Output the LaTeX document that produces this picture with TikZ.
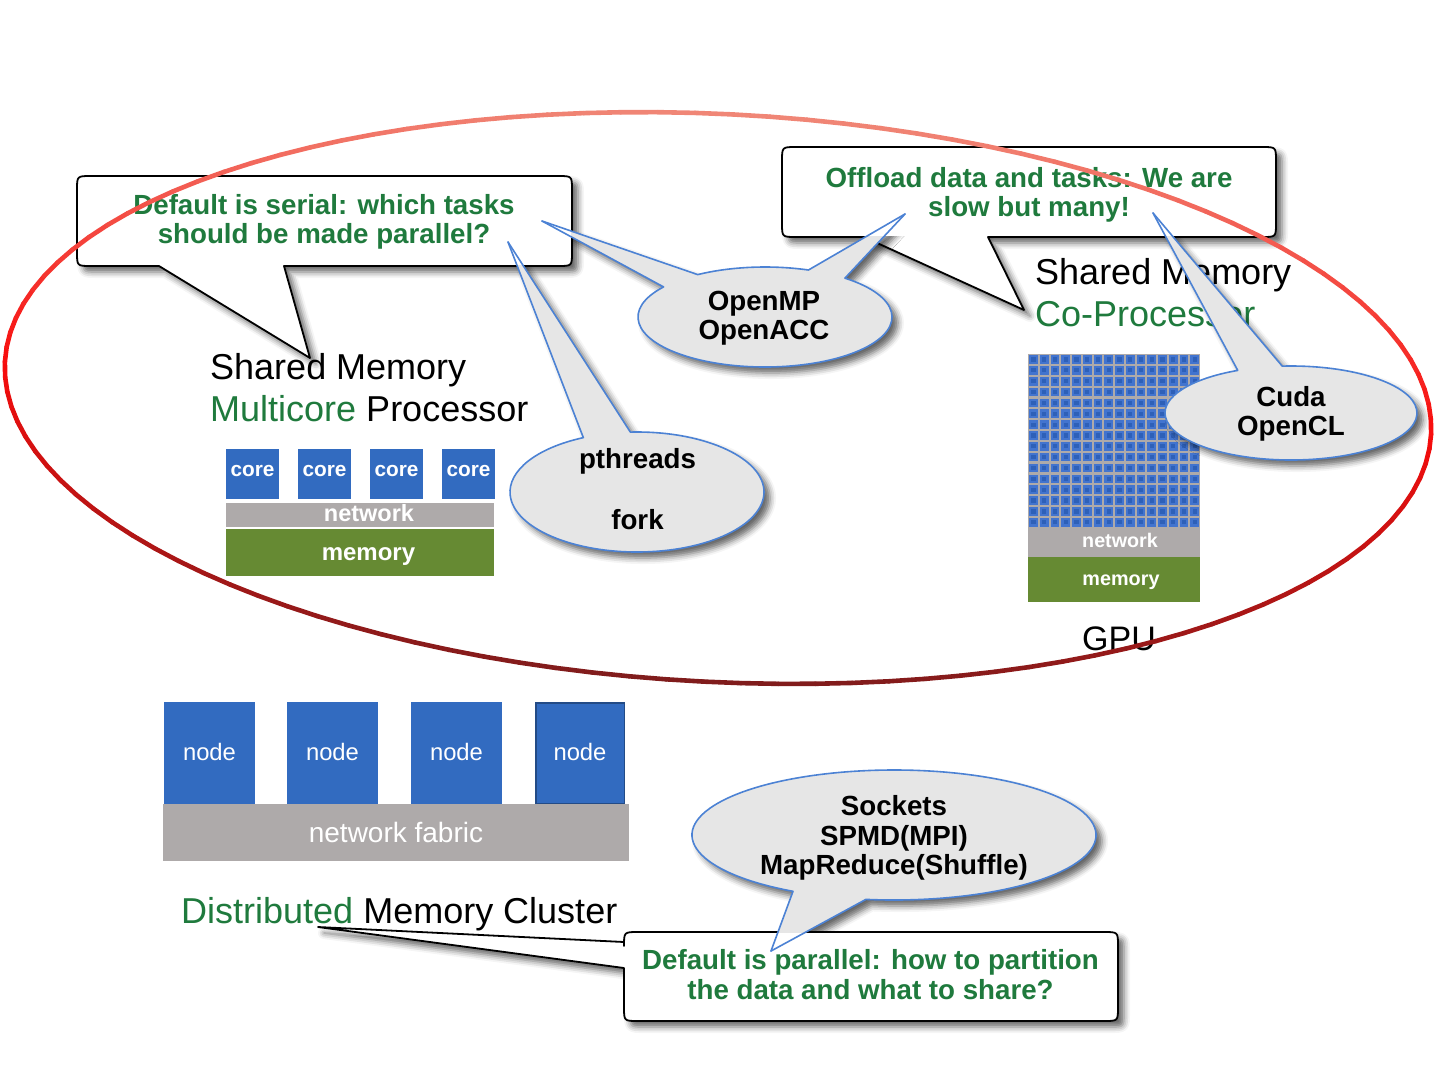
\documentclass[tikz,border=0pt]{standalone}
\usepackage{fontspec}
\setmainfont{Liberation Sans}
\usetikzlibrary{shadows.blur}
\definecolor{tgreen}{HTML}{1F7A3D}
\definecolor{cblue}{HTML}{326BC0}
\definecolor{cgray}{HTML}{AEAAAA}
\definecolor{mgreen}{HTML}{668A33}
\definecolor{bfill}{HTML}{E6E6E6}
\definecolor{bline}{HTML}{4C82D4}
\definecolor{gblue}{HTML}{4274CF}
\definecolor{gblue2}{HTML}{2E60B8}
\definecolor{elltop}{HTML}{F08676}
\definecolor{ellmid}{HTML}{F80C0C}
\definecolor{ellbot}{HTML}{801C1C}
\begin{document}
\begin{tikzpicture}[x=1pt,y=-1pt,
  bt/.style={font=\fontsize{27.7}{30}\selectfont\bfseries, text=tgreen, anchor=base, inner sep=0pt},
  kt/.style={font=\fontsize{27.7}{30}\selectfont\bfseries, text=black, anchor=base, inner sep=0pt},
  big/.style={font=\fontsize{36}{42}\selectfont, anchor=base west, inner sep=0pt},
  wt/.style={text=white, anchor=base, inner sep=0pt},
  sh/.style={blur shadow={shadow xshift=6pt, shadow yshift=-6pt, shadow blur radius=6pt, shadow opacity=60}},
  cbox/.style={fill=white, draw=black, line width=1.8pt, line join=round, sh},
  bub/.style={fill=bfill, draw=bline, line width=1.6pt, line join=round, sh},
  bl/.style={draw=bline, line width=1.6pt, line cap=round},
]
\useasboundingbox (0,0) rectangle (1440,1080);

% ---------- Shared memory multicore ----------
\node[big] (sm1) at (210,379) {Shared Memory};
\node[big] (sm2) at (210,421) {\textcolor{tgreen}{Multicore} Processor};
\foreach \x/\n in {226/1,298/2,370/3,442/4}{
  \fill[cblue] (\x,449) rectangle +(53,50);
  \node[wt, font=\fontsize{20.8}{24}\selectfont\bfseries] (core\n) at ({\x+26.5},476) {core};
}
\fill[cgray] (226,503) rectangle (494,527);
\node[wt, font=\fontsize{23.5}{26}\selectfont\bfseries] (net1) at (369,521.5) {network};
\fill[mgreen] (226,529) rectangle (494,576);
\node[wt, font=\fontsize{24}{26}\selectfont\bfseries] (mem1) at (368.5,560) {memory};

% ---------- GPU ----------
\node[big] (sm3) at (1035,284) {Shared Memory};
\node[big, text=tgreen] (cop) at (1035,326) {Co-Processor};
\fill[cgray] (1028,354) rectangle (1200,528);
\foreach \i in {0,...,15}{
  \foreach \j in {0,...,15}{
    \fill[gblue] ({1029.2+\i*10.75},{355.2+\j*10.85}) rectangle +(8.6,8.6);
    \fill[gblue2] ({1031.4+\i*10.75},{357.4+\j*10.85}) rectangle +(4.2,4.2);
  }
}
\fill[cgray] (1028,528) rectangle (1200,557);
\node[wt, font=\fontsize{19.7}{22}\selectfont\bfseries] (net2) at (1120,547) {network};
\fill[mgreen] (1028,557) rectangle (1200,602);
\node[wt, font=\fontsize{19.8}{22}\selectfont\bfseries] (mem2) at (1121,585) {memory};
\node[font=\fontsize{34}{40}\selectfont, anchor=base, inner sep=0pt] (gpu) at (1119,650) {GPU};

% ---------- Cluster ----------
\foreach \x/\n in {164/1,287/2,411/3}{
  \fill[cblue] (\x,702) rectangle +(91,102);
  \node[wt, font=\fontsize{23.8}{26}\selectfont] (node\n) at ({\x+45.5},760.5) {node};
}
\fill[cblue] (535,702) rectangle (625,804);
\draw[draw=black!30!cblue, line width=1.5pt] (535.75,702.75) rectangle (624.25,803.25);
\node[wt, font=\fontsize{23.8}{26}\selectfont] (node4) at (580,760.5) {node};
\fill[cgray] (163,804) rectangle (629,861);
\node[wt, font=\fontsize{28}{30}\selectfont] (fab) at (396,842) {network fabric};
\node[big] (dmc) at (181,923.5) {\textcolor{tgreen}{Distributed} Memory Cluster};

% ---------- rectangular callouts ----------
\path[cbox] (91,176) -- (558,176) .. controls (572,176) .. (572,190) -- (572,252)
  .. controls (572,266) .. (558,266) -- (284,266) -- (310,358) -- (159,266) -- (91,266)
  .. controls (77,266) .. (77,252) -- (77,190) .. controls (77,176) .. (91,176) -- cycle;
\path[cbox] (796,147) -- (1262,147) .. controls (1276,147) .. (1276,161) -- (1276,223)
  .. controls (1276,237) .. (1262,237) -- (988,237) -- (1024,310) -- (864,237) -- (796,237)
  .. controls (782,237) .. (782,223) -- (782,161) .. controls (782,147) .. (796,147) -- cycle;
\path[cbox] (638,932) -- (1104,932) .. controls (1118,932) .. (1118,946) -- (1118,1007)
  .. controls (1118,1021) .. (1104,1021) -- (638,1021) .. controls (624,1021) .. (624,1007)
  -- (624,968) -- (318,927) -- (624,942) -- (624,946) .. controls (624,932) .. (638,932) -- cycle;

% ---------- elliptical callouts ----------
\coordinate (omA) at ({765+127*cos(217)},{317+50*sin(217)});
\coordinate (omB) at ({765+127*cos(238)},{317+50*sin(238)});
\coordinate (omC) at ({765+127*cos(290)},{317+50*sin(290)});
\coordinate (omD) at ({765+127*cos(309)},{317+50*sin(309)});
\coordinate (omTL) at (542,221);
\coordinate (omTR) at (905,214);
\coordinate (ptA) at ({637+127*cos(245)},{492+60*sin(245)});
\coordinate (ptB) at ({637+127*cos(267)},{492+60*sin(267)});
\coordinate (ptT) at (508,242);
\coordinate (cuA) at ({1291+126*cos(245)},{413+47*sin(245)});
\coordinate (cuB) at ({1291+126*cos(266)},{413+47*sin(266)});
\coordinate (cuT) at (1153,213);
\coordinate (soA) at ({894+202*cos(98)},{835+65*sin(98)});
\coordinate (soB) at ({894+202*cos(120)},{835+65*sin(120)});
\coordinate (soT) at (771,951);

\path[bub] (omTL) -- (omB) arc[start angle=238, end angle=290, x radius=127, y radius=50]
  -- (omTR) -- (omD) arc[start angle=309, end angle=577, x radius=127, y radius=50] -- cycle;
\path[bub] (ptT) -- (ptB) arc[start angle=267, end angle=605, x radius=127, y radius=60] -- cycle;
\path[bub] (cuT) -- (cuB) arc[start angle=266, end angle=605, x radius=126, y radius=47] -- cycle;
\path[bub] (soT) -- (soB) arc[start angle=120, end angle=458, x radius=202, y radius=65] -- cycle;

% tails inside the boxes
\begin{scope}
  \clip[rounded corners=13] (78,177) rectangle (571,265);
  \fill[white] (78,177) rectangle (571,265);
  \draw[bl] (omTL) -- (omA); \draw[bl] (omTL) -- (omB);
  \draw[bl] (ptT) -- (ptA); \draw[bl] (ptT) -- (ptB);
\end{scope}
\begin{scope}
  \clip[rounded corners=13] (783,148) rectangle (1275,236);
  \fill[white] (783,148) rectangle (1275,236);
  \draw[bl] (omTR) -- (omC); \draw[bl] (omTR) -- (omD);
  \draw[bl] (cuT) -- (cuA); \draw[bl] (cuT) -- (cuB);
\end{scope}
\begin{scope}
  \clip[rounded corners=13] (625,933) rectangle (1117,1020);
  \fill[white] (625,933) rectangle (1117,1020);
  \draw[bl] (soT) -- (soA); \draw[bl] (soT) -- (soB);
\end{scope}

% ---------- texts of callouts ----------
\node[bt] (b1a) at (324,214) {Default is serial: which tasks};
\node[bt] (b1b) at (324,243) {should be made parallel?};
\node[bt] (b2a) at (1029,187) {Offload data and tasks: We are};
\node[bt] (b2b) at (1029,216) {slow but many!};
\node[bt] (b3a) at (870.5,969) {Default is parallel: how to partition};
\node[bt] (b3b) at (870.5,999) {the data and what to share?};
\node[kt] (om1) at (764,310) {OpenMP};
\node[kt] (om2) at (764,339) {OpenACC};
\node[kt] (pt1) at (637.5,468) {pthreads};
\node[kt] (pt2) at (637.5,529) {fork};
\node[kt] (cu1) at (1291,406) {Cuda};
\node[kt] (cu2) at (1291,435) {OpenCL};
\node[kt] (so1) at (894,815) {Sockets};
\node[kt] (so2) at (894,845) {SPMD(MPI)};
\node[kt] (so3) at (894,874) {MapReduce(Shuffle)};

% ---------- big red ellipse ----------
\foreach \t in {0,3,...,357}{
  \pgfmathsetmacro\s{sin(\t+1.5)}
  \pgfmathsetmacro\mb{max(0,\s)*100}
  \pgfmathsetmacro\mt{max(0,-\s)*100}
  \colorlet{tmpc}{ellbot!\mb!ellmid}
  \colorlet{segc}{elltop!\mt!tmpc}
  \draw[draw=segc, line width=4.6pt, line cap=round]
    ({718+713.1*cos(\t)-14.37*sin(\t)},{398+36.13*cos(\t)+283.6*sin(\t)}) --
    ({718+713.1*cos(\t+3)-14.37*sin(\t+3)},{398+36.13*cos(\t+3)+283.6*sin(\t+3)});
}
\end{tikzpicture}
\end{document}
